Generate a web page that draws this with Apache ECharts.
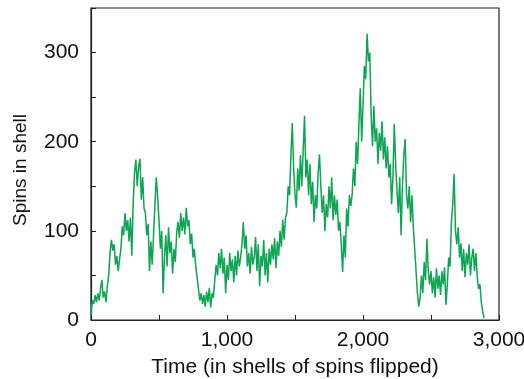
<!DOCTYPE html>
<html><head><meta charset="utf-8">
<script src="https://cdn.jsdelivr.net/npm/echarts@6/dist/echarts.min.js"></script>
<style>html,body{margin:0;padding:0;background:#fff}#c{width:524px;height:379px}</style>
</head><body><div id="c"></div>
<script>
// Time step between readings (shells of spins flipped)
var timeStep = 10;
// Spins in shell, time 0..490
var seg0 = [5,22,18,28,20,30,22,35,45,25,32,20,38,50,75,90,78,85,62,72,55,68,80,105,95,120,100,112,88,115,72,130,165,180,150,172,181,135,160,125,120,95,108,55,88,62,95,130,160,138];
// time 500..990
var seg1 = [112,80,100,30,70,95,60,104,75,88,52,80,65,98,110,92,120,100,115,96,126,105,112,85,97,70,80,60,48,35,22,30,18,28,15,32,20,36,14,30,25,45,62,50,75,58,80,52,70,30];
// time 1000..1490
var seg2 = [62,45,75,55,68,42,72,50,78,60,70,85,110,80,95,60,75,52,82,62,70,93,55,85,38,72,60,90,50,75,42,80,62,85,68,92,58,88,72,100,82,112,90,115,120,150,140,185,221,170];
// time 1500..1990
var seg3 = [140,126,170,145,185,150,190,229,160,180,140,175,130,155,110,140,125,165,186,150,120,140,100,130,115,150,125,160,112,140,118,135,100,110,85,54,95,70,125,105,140,128,140,170,150,200,175,220,260,200];
// time 2000..2490
var seg4 = [240,285,270,321,290,300,230,195,240,200,215,175,210,190,223,180,205,170,195,160,175,130,160,220,175,145,120,160,95,150,185,203,140,125,150,110,140,104,80,55,30,15,25,50,30,65,45,91,55,40];
// time 2500..2890
var seg5 = [55,30,48,25,58,35,50,28,55,40,59,17,40,70,60,110,130,164,100,85,104,70,86,55,80,48,75,62,85,50,70,80,55,75,48,35,40,20,10,2];

var xTickLabels = {0:'0',1000:'1,000',2000:'2,000',3000:'3,000'};
var yTickLabels = {0:'0',100:'100',200:'200',300:'300'};

var values = [].concat(seg0, seg1, seg2, seg3, seg4, seg5);
var data = values.map(function (v, i) { return [i * timeStep, v]; });

var font = '"Liberation Sans", Arial, sans-serif';
var chart = echarts.init(document.getElementById('c'), null, {renderer: 'canvas'});
chart.setOption({
  animation: false,
  grid: {left: 91, right: 25, top: 8, bottom: 59, containLabel: false, outerBoundsMode: 'none',
    show: true, borderColor: '#222', borderWidth: 1.2, backgroundColor: 'transparent'},
  xAxis: {
    type: 'value', min: 0, max: 3000, interval: 500,
    name: 'Time (in shells of spins flipped)', nameLocation: 'middle', nameGap: 37,
    nameTextStyle: {fontFamily: font, fontSize: 21, color: '#111'},
    axisLine: {show: true, lineStyle: {color: '#222', width: 1.2}},
    axisTick: {show: true, inside: true, length: 5, lineStyle: {color: '#222'}},
    splitLine: {show: false},
    axisLabel: {fontFamily: font, fontSize: 21, color: '#111', margin: 10,
      formatter: function (v) { return xTickLabels[v] !== undefined ? xTickLabels[v] : ''; }}
  },
  yAxis: {
    type: 'value', min: 0, max: 350, interval: 50,
    name: 'Spins in shell', nameLocation: 'middle', nameGap: 61,
    nameTextStyle: {fontFamily: font, fontSize: 19, color: '#111', padding: [0, 12, 0, 0]},
    axisLine: {show: true, lineStyle: {color: '#222', width: 1.2}},
    axisTick: {show: true, inside: true, length: 5, lineStyle: {color: '#222'}},
    splitLine: {show: false},
    axisLabel: {fontFamily: font, fontSize: 21, color: '#111', margin: 12,
      formatter: function (v) { return yTickLabels[v] !== undefined ? yTickLabels[v] : ''; }}
  },
  series: [{
    type: 'line', data: data, showSymbol: false, symbol: 'none', sampling: null,
    lineStyle: {color: '#0ca552', width: 1.5}, clip: true
  }]
});
</script></body></html>
